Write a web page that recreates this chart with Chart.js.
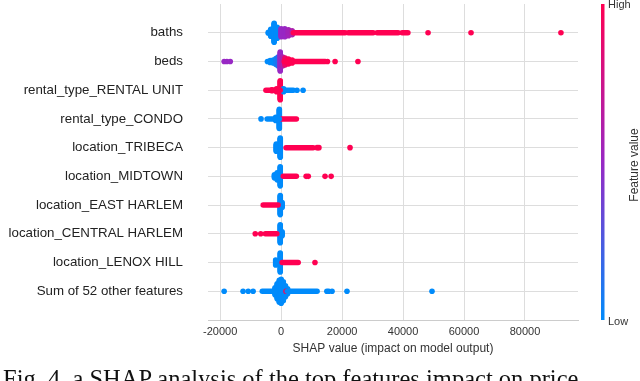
<!DOCTYPE html>
<html>
<head>
<meta charset="utf-8">
<script src="https://cdn.jsdelivr.net/npm/chart.js@4.4.1/dist/chart.umd.min.js"></script>
<style>
  html, body { margin: 0; padding: 0; background: #fff; }
  #wrap { position: relative; width: 640px; height: 381px; overflow: hidden; }
  #caption {
    position: absolute; left: 3px; top: 367px; white-space: nowrap; line-height: 1;
    font-family: "Liberation Serif", "DejaVu Serif", serif; font-size: 24.5px; color: #111;
  }
</style>
</head>
<body>
<div id="wrap">
  <canvas id="chart" width="640" height="381"></canvas>
  <div id="caption">Fig. 4. a SHAP analysis of the top features impact on price</div>
</div>
<script>
const features = [
    "baths",
    "beds",
    "rental_type_RENTAL UNIT",
    "rental_type_CONDO",
    "location_TRIBECA",
    "location_MIDTOWN",
    "location_EAST HARLEM",
    "location_CENTRAL HARLEM",
    "location_LENOX HILL",
    "Sum of 52 other features"
];
const xTicks = [-20000, 0, 20000, 40000, 60000, 80000];

// single points: [row, shap value, feature value (0 low .. 1 high)]
const dots = [
    [0, 48200, 1], [0, 62300, 1], [0, 91800, 1],
    [1, -18700, 0.5], [1, -17800, 0.5], [1, -16700, 0.5],
    [1, 15200, 1], [1, 17700, 1], [1, 25200, 1],
    [2, 5200, 0], [2, 7200, 0],
    [3, -6600, 0],
    [4, 11800, 1], [4, 12400, 1], [4, 22600, 1],
    [5, 8200, 1], [5, 8900, 1], [5, 14400, 1], [5, 16400, 1],
    [7, -8500, 1], [7, -6700, 1],
    [8, 11100, 1],
    [9, -18700, 0], [9, -12500, 0], [9, -10800, 0], [9, -9200, 0],
    [9, 15000, 0], [9, 15600, 0], [9, 16700, 0], [9, 21600, 0], [9, 49500, 0],
    [9, 1600, 1]
];

// piles of points at about the same value: [row, shap value, pile size, feature value]
const piles = [
    [0, -4200, 2, 0], [0, -3400, 8, 0], [0, -2300, 20, 0], [0, -1300, 12, 0],
    [0, 0, 9, 0.5], [0, 1200, 9, 0.5], [0, 2400, 7, 0.55], [0, 3600, 5, 0.6],
    [1, -4500, 1, 0], [1, -3600, 3, 0], [1, -2600, 4, 0], [1, -1700, 7, 0.05],
    [1, -1000, 10, 0.1], [1, -300, 20, 0.5], [1, 500, 10, 0.6],
    [1, 1300, 8, 0.9], [1, 2400, 6, 1], [1, 3600, 4, 1],
    [2, -3000, 2, 1], [2, -1500, 4, 1], [2, -300, 20, 1], [2, 800, 4, 0],
    [3, -1800, 4, 0], [3, -600, 20, 0],
    [4, -1600, 8, 0], [4, -300, 20, 0],
    [5, -2200, 4, 0], [5, -1300, 8, 0], [5, -300, 20, 0],
    [6, -300, 20, 0], [6, 300, 6, 0],
    [7, -300, 19, 0], [7, 300, 5, 0],
    [8, -1800, 6, 0], [8, -300, 20, 0],
    [9, -2000, 8, 0], [9, -1300, 16, 0], [9, -600, 23, 0], [9, 0, 25, 0],
    [9, 700, 20, 0], [9, 1400, 12, 0], [9, 2100, 6, 0]
];

// dense runs of overlapping points: [row, from, to, feature value]
const runs = [
    [0, 4000, 21000, 1], [0, 22000, 30200, 1], [0, 31500, 38400, 1], [0, 39700, 41600, 1],
    [1, 1000, 14500, 1],
    [2, -5000, -300, 1], [2, 700, 4000, 0],
    [3, -4600, -600, 0], [3, 200, 5000, 1],
    [4, 1600, 10500, 1],
    [5, 700, 5000, 1],
    [6, -5900, -1000, 1],
    [7, -5200, -1400, 1],
    [8, 300, 5600, 1],
    [9, -6200, -2000, 0], [9, 2000, 11800, 0]
];

const colorStops = [[0, [0, 139, 251]], [0.5, [152, 40, 196]], [1, [255, 0, 82]]];

function featureColor(v) {
    for (var i = 1; i < colorStops.length; i++) {
        if (v <= colorStops[i][0]) {
            var a = colorStops[i - 1], b = colorStops[i];
            var t = (v - a[0]) / (b[0] - a[0]);
            var c = a[1].map((ch, k) => Math.round(ch + (b[1][k] - ch) * t));
            return 'rgb(' + c.join(',') + ')';
        }
    }
    return 'rgb(255,0,82)';
}

const pileStep = 0.0348;

function buildPoints() {
    var pts = [];
    piles.forEach(p => {
        for (var k = 0; k < p[2]; k++) {
            pts.push({x: p[1], y: p[0] + (k - (p[2] - 1) / 2) * pileStep, c: featureColor(p[3])});
        }
    });
    dots.forEach(d => pts.push({x: d[1], y: d[0], c: featureColor(d[2])}));
    return pts;
}

var datasets = runs.map(r => ({
    data: [{x: r[1], y: r[0]}, {x: r[2], y: r[0]}],
    showLine: true,
    borderColor: featureColor(r[3]),
    borderWidth: 5.5,
    borderCapStyle: 'round',
    pointRadius: 0
}));
var points = buildPoints();
datasets.push({
    data: points,
    pointRadius: 2.8,
    pointBorderWidth: 0,
    backgroundColor: points.map(p => p.c),
    borderColor: points.map(p => p.c)
});

const colorBar = {
    id: 'colorBar',
    afterDraw(chart) {
        var ctx = chart.ctx;
        var top = chart.chartArea.top, bottom = chart.chartArea.bottom;
        var g = ctx.createLinearGradient(0, bottom, 0, top);
        [0, 0.25, 0.5, 0.75, 1].forEach(s => g.addColorStop(s, featureColor(s)));
        ctx.save();
        ctx.fillStyle = g;
        ctx.fillRect(601, top, 3.5, bottom - top);
        ctx.fillStyle = '#333';
        ctx.font = '11px "Liberation Sans", Arial, sans-serif';
        ctx.textBaseline = 'middle';
        ctx.textAlign = 'left';
        ctx.fillText('High', 608, top + 1);
        ctx.fillText('Low', 608, bottom + 2);
        ctx.translate(635, (top + bottom) / 2 + 3);
        ctx.rotate(-Math.PI / 2);
        ctx.textAlign = 'center';
        ctx.font = '12px "Liberation Sans", Arial, sans-serif';
        ctx.fillText('Feature value', 0, 0);
        ctx.restore();
    }
};

new Chart(document.getElementById('chart'), {
    type: 'scatter',
    data: {datasets: datasets},
    plugins: [colorBar],
    options: {
        responsive: false,
        animation: false,
        layout: {padding: {top: 4, right: 62, bottom: 25, left: 0}},
        plugins: {legend: {display: false}, tooltip: {enabled: false}},
        scales: {
            x: {
                min: -24000,
                max: 97400,
                afterBuildTicks: s => { s.ticks = xTicks.map(v => ({value: v})); },
                afterFit: s => { s.height = 36; },
                grid: {color: '#dddddd', drawTicks: false},
                border: {color: '#cccccc'},
                ticks: {
                    padding: 5,
                    color: '#333',
                    font: {family: '"Liberation Sans", Arial, sans-serif', size: 11},
                    callback: v => String(v)
                },
                title: {
                    display: true,
                    text: 'SHAP value (impact on model output)',
                    color: '#333',
                    padding: {top: 0, bottom: 0},
                    font: {family: '"Liberation Sans", Arial, sans-serif', size: 12}
                }
            },
            y: {
                min: -1,
                max: 10,
                reverse: true,
                afterBuildTicks: s => { s.ticks = features.map((f, i) => ({value: i})); },
                afterFit: s => { s.width = 208; s.paddingTop = 0; s.paddingBottom = 0; },
                grid: {color: '#dddddd', drawTicks: false},
                border: {display: false},
                ticks: {
                    padding: 25,
                    color: '#222',
                    font: {family: '"Liberation Sans", Arial, sans-serif', size: 13.3},
                    callback: v => features[v]
                }
            }
        }
    }
});
</script>
</body>
</html>
